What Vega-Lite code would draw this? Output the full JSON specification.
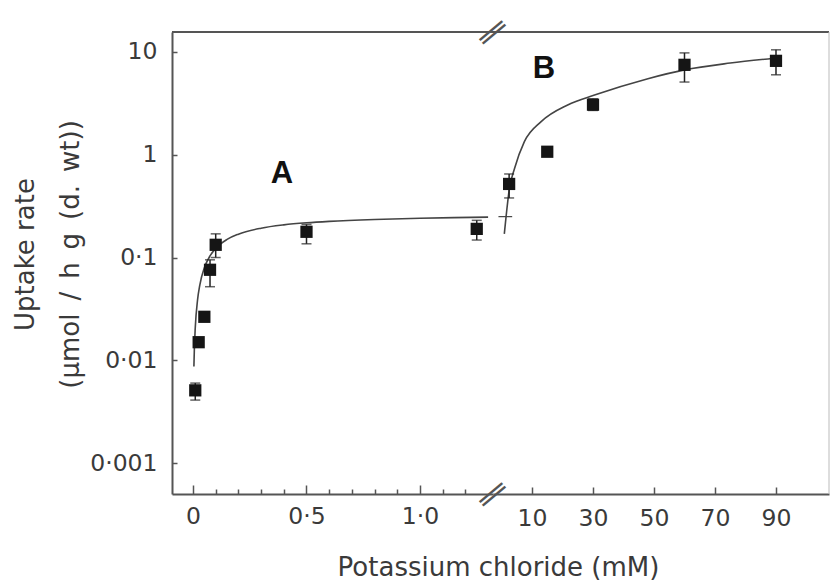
{
  "$schema": "https://vega.github.io/schema/vega-lite/v6.json",
  "background": "white",
  "autosize": {"type": "pad"},
  "padding": {"left": 12, "top": 16, "right": 2, "bottom": 2},
  "spacing": 0,
  "bounds": "flush",
  "config": {
    "view": {"stroke": null},
    "font": "DejaVu Sans",
    "axis": {
      "grid": false,
      "domainColor": "#555",
      "domainWidth": 2,
      "tickColor": "#555",
      "tickWidth": 1.5,
      "labelFont": "DejaVu Sans",
      "labelFontSize": 23.5,
      "labelColor": "#3a3a3a",
      "labelFlush": false,
      "labelOverlap": false,
      "titleFont": "DejaVu Sans",
      "titleFontSize": 26,
      "titleColor": "#3a3a3a",
      "titleFontWeight": "normal"
    }
  },
  "datasets": {
    "curveA": [
      {"conc": 0.004, "rate": 0.0087},
      {"conc": 0.006, "rate": 0.0129},
      {"conc": 0.01, "rate": 0.0208},
      {"conc": 0.02, "rate": 0.0386},
      {"conc": 0.03, "rate": 0.054},
      {"conc": 0.05, "rate": 0.0794},
      {"conc": 0.075, "rate": 0.1038},
      {"conc": 0.1, "rate": 0.1227},
      {"conc": 0.15, "rate": 0.15},
      {"conc": 0.2, "rate": 0.1688},
      {"conc": 0.3, "rate": 0.1929},
      {"conc": 0.4, "rate": 0.2077},
      {"conc": 0.5, "rate": 0.2177},
      {"conc": 0.6, "rate": 0.225},
      {"conc": 0.8, "rate": 0.2348},
      {"conc": 1.0, "rate": 0.2411},
      {"conc": 1.15, "rate": 0.2445},
      {"conc": 1.3, "rate": 0.2472}
    ],
    "pointsA": [
      {"conc": 0.01, "rate": 0.0051, "lo": 0.0041, "hi": 0.006},
      {"conc": 0.025, "rate": 0.015, "lo": 0.0135, "hi": 0.0165},
      {"conc": 0.05, "rate": 0.0265, "lo": 0.024, "hi": 0.029},
      {"conc": 0.075, "rate": 0.076, "lo": 0.052, "hi": 0.095},
      {"conc": 0.1, "rate": 0.133, "lo": 0.1, "hi": 0.17},
      {"conc": 0.5, "rate": 0.178, "lo": 0.136, "hi": 0.21},
      {"conc": 1.25, "rate": 0.19, "lo": 0.148, "hi": 0.23}
    ],
    "curveB": [
      {"conc": 0.92, "rate": 0.17},
      {"conc": 1.5, "rate": 0.25},
      {"conc": 2.6, "rate": 0.47},
      {"conc": 4.3, "rate": 0.74},
      {"conc": 7.5, "rate": 1.34},
      {"conc": 13, "rate": 2.1},
      {"conc": 21.7, "rate": 3.05},
      {"conc": 30.5, "rate": 3.81},
      {"conc": 48, "rate": 5.5},
      {"conc": 60, "rate": 6.7},
      {"conc": 75, "rate": 7.8},
      {"conc": 89.4, "rate": 8.7}
    ],
    "pointsB": [
      {"conc": 2.5, "rate": 0.52, "lo": 0.38, "hi": 0.65},
      {"conc": 15, "rate": 1.07, "lo": 0.98, "hi": 1.15},
      {"conc": 30, "rate": 3.07, "lo": 2.7, "hi": 3.5},
      {"conc": 60, "rate": 7.5, "lo": 5.1, "hi": 9.8},
      {"conc": 90, "rate": 8.2, "lo": 6.0, "hi": 10.5}
    ],
    "one": [{}]
  },
  "hconcat": [
    {
      "width": 321,
      "height": 462,
      "layer": [
        {
          "data": {"name": "curveA"},
          "mark": {"type": "line", "color": "#444", "strokeWidth": 1.6, "interpolate": "monotone"},
          "encoding": {
            "x": {
              "field": "conc", "type": "quantitative",
              "scale": {"domain": [-0.0925, 1.3216], "nice": false, "zero": false},
              "axis": {
                "values": [0, 0.1, 0.2, 0.3, 0.4, 0.5, 0.6, 0.7, 0.8, 0.9, 1, 1.1, 1.2],
                "tickCount": 30,
                "labelExpr": "datum.value == 0 ? '0' : datum.value == 0.5 ? '0·5' : datum.value == 1 ? '1·0' : ''",
                "tickSize": {"condition": {"test": "datum.value == 0 || datum.value == 0.5 || datum.value == 1", "value": -9}, "value": -5},
                "labelPadding": 19,
                "title": "Potassium chloride (mM)",
                "titleX": 326,
                "titleY": 81,
                "titleAlign": "center",
                "titleBaseline": "alphabetic"
              }
            },
            "y": {
              "field": "rate", "type": "quantitative",
              "scale": {"type": "log", "domain": [0.0005, 15.65], "nice": false},
              "axis": {
                "values": [0.001, 0.01, 0.1, 1, 10],
                "labelExpr": "replace(toString(datum.value), '.', '·')",
                "tickSize": -5,
                "labelPadding": 20,
                "title": ["Uptake rate", "(μmol\u2002/\u2002h\u2002g\u2002(d.\u2002wt))"],
                "titleLineHeight": 45,
                "titlePadding": 6,
                "titleY": 222
              }
            }
          }
        },
        {
          "data": {"name": "pointsA"},
          "mark": {"type": "rule", "color": "#222", "strokeWidth": 1.5},
          "encoding": {
            "x": {"field": "conc", "type": "quantitative"},
            "y": {"field": "lo", "type": "quantitative"},
            "y2": {"field": "hi"}
          }
        },
        {
          "data": {"name": "pointsA"},
          "mark": {"type": "tick", "orient": "horizontal", "color": "#222", "size": 10, "thickness": 1.5},
          "encoding": {
            "x": {"field": "conc", "type": "quantitative"},
            "y": {"field": "lo", "type": "quantitative"}
          }
        },
        {
          "data": {"name": "pointsA"},
          "mark": {"type": "tick", "orient": "horizontal", "color": "#222", "size": 10, "thickness": 1.5},
          "encoding": {
            "x": {"field": "conc", "type": "quantitative"},
            "y": {"field": "hi", "type": "quantitative"}
          }
        },
        {
          "data": {"name": "pointsA"},
          "mark": {"type": "point", "shape": "square", "filled": true, "size": 150, "color": "#151515", "opacity": 1},
          "encoding": {
            "x": {"field": "conc", "type": "quantitative"},
            "y": {"field": "rate", "type": "quantitative"}
          }
        },
        {
          "data": {"name": "one"},
          "mark": {"type": "text", "text": "A", "font": "Liberation Sans", "fontWeight": "bold", "fontSize": 31, "color": "#111", "baseline": "middle", "align": "center"},
          "encoding": {"x": {"datum": 0.392}, "y": {"datum": 0.653}}
        },
        {
          "data": {"name": "one"},
          "mark": {"type": "rule", "color": "#555", "strokeWidth": 2},
          "encoding": {"y": {"datum": 15.65}}
        },
        {
          "data": {"name": "one"},
          "mark": {"type": "text", "text": "∥", "fontSize": 30, "angle": 50, "color": "#555", "baseline": "middle", "align": "center"},
          "encoding": {"x": {"datum": 1.3216}, "y": {"datum": 15.65}}
        },
        {
          "data": {"name": "one"},
          "mark": {"type": "text", "text": "∥", "fontSize": 30, "angle": 50, "color": "#555", "baseline": "middle", "align": "center"},
          "encoding": {"x": {"datum": 1.3216}, "y": {"datum": 0.0005}}
        }
      ]
    },
    {
      "width": 336,
      "height": 462,
      "layer": [
        {
          "data": {"name": "curveB"},
          "mark": {"type": "line", "color": "#444", "strokeWidth": 1.6, "interpolate": "monotone"},
          "encoding": {
            "x": {
              "field": "conc", "type": "quantitative",
              "scale": {"domain": [-2.787, 107.38], "nice": false, "zero": false},
              "axis": {
                "values": [10, 30, 50, 70, 90],
                "tickSize": -7,
                "labelPadding": 19,
                "title": null
              }
            },
            "y": {
              "field": "rate", "type": "quantitative",
              "scale": {"type": "log", "domain": [0.0005, 15.65], "nice": false},
              "axis": null
            }
          }
        },
        {
          "data": {"name": "one"},
          "mark": {"type": "rule", "color": "#444", "strokeWidth": 1.2},
          "encoding": {"x": {"datum": -1.0}, "x2": {"datum": 3.5}, "y": {"datum": 0.25}}
        },
        {
          "data": {"name": "pointsB"},
          "mark": {"type": "rule", "color": "#222", "strokeWidth": 1.5},
          "encoding": {
            "x": {"field": "conc", "type": "quantitative"},
            "y": {"field": "lo", "type": "quantitative"},
            "y2": {"field": "hi"}
          }
        },
        {
          "data": {"name": "pointsB"},
          "mark": {"type": "tick", "orient": "horizontal", "color": "#222", "size": 10, "thickness": 1.5},
          "encoding": {
            "x": {"field": "conc", "type": "quantitative"},
            "y": {"field": "lo", "type": "quantitative"}
          }
        },
        {
          "data": {"name": "pointsB"},
          "mark": {"type": "tick", "orient": "horizontal", "color": "#222", "size": 10, "thickness": 1.5},
          "encoding": {
            "x": {"field": "conc", "type": "quantitative"},
            "y": {"field": "hi", "type": "quantitative"}
          }
        },
        {
          "data": {"name": "pointsB"},
          "mark": {"type": "point", "shape": "square", "filled": true, "size": 150, "color": "#151515", "opacity": 1},
          "encoding": {
            "x": {"field": "conc", "type": "quantitative"},
            "y": {"field": "rate", "type": "quantitative"}
          }
        },
        {
          "data": {"name": "one"},
          "mark": {"type": "text", "text": "B", "font": "Liberation Sans", "fontWeight": "bold", "fontSize": 31, "color": "#111", "baseline": "middle", "align": "center"},
          "encoding": {"x": {"datum": 13.9}, "y": {"datum": 6.8}}
        },
        {
          "data": {"name": "one"},
          "mark": {"type": "rule", "color": "#555", "strokeWidth": 2},
          "encoding": {"y": {"datum": 15.65}}
        },
        {
          "data": {"name": "one"},
          "mark": {"type": "rule", "color": "#bbb", "strokeWidth": 1},
          "encoding": {"x": {"datum": 107.38}}
        }
      ]
    }
  ]
}
